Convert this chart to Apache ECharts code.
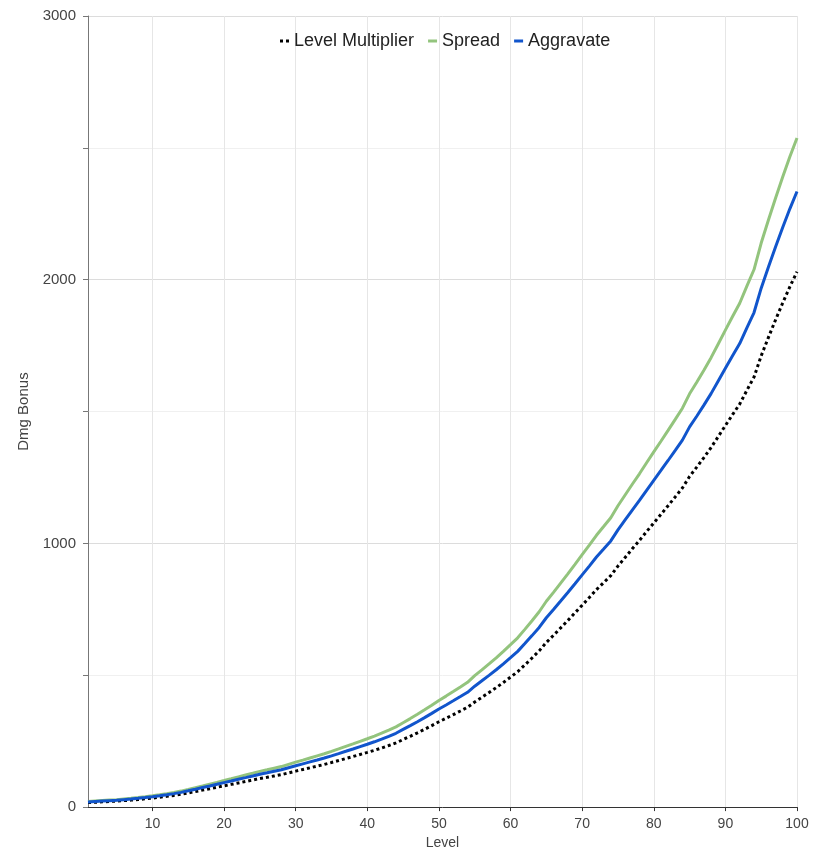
<!DOCTYPE html>
<html>
<head>
<meta charset="utf-8">
<script src="https://cdn.jsdelivr.net/npm/echarts@6/dist/echarts.min.js"></script>
<style>html,body{margin:0;padding:0;background:#fff}#c{width:821px;height:855px}</style>
</head>
<body>
<div id="c"></div>
<script>
const levels = [1,2,3,4,5,6,7,8,9,10,11,12,13,14,15,16,17,18,19,20,21,22,23,24,25,26,27,28,29,30,31,32,33,34,35,36,37,38,39,40,41,42,43,44,45,46,47,48,49,50,51,52,53,54,55,56,57,58,59,60,61,62,63,64,65,66,67,68,69,70,71,72,73,74,75,76,77,78,79,80,81,82,83,84,85,86,87,88,89,90,91,92,93,94,95,96,97,98,99,100];
const levelMultiplier = [17.2,18.5,19.9,21.3,22.6,24.6,26.6,28.9,31.4,34.1,37.2,40.7,44.4,48.6,53.7,59.1,64.4,69.7,75.1,80.6,86.1,91.7,97.2,102.8,108.4,113.2,118.1,123.0,129.7,136.3,142.7,149.0,155.4,161.8,169.1,176.5,184.1,191.7,199.6,207.4,215.4,224.2,233.5,243.4,256.1,268.5,281.5,295.0,309.1,323.6,336.8,350.5,364.5,378.6,398.6,416.4,434.4,453.0,472.6,492.9,513.6,539.1,565.5,592.5,624.4,651.5,679.5,707.8,736.7,765.6,794.8,824.7,851.2,877.7,914.2,946.7,979.4,1011.2,1044.8,1077.4,1110.0,1143.0,1176.4,1210.2,1253.8,1289.0,1325.5,1363.5,1405.1,1446.9,1488.2,1528.4,1580.4,1630.8,1711.2,1780.5,1847.3,1911.5,1972.9,2030.1];
const spread = [21.5,23.2,24.9,26.6,28.3,30.8,33.3,36.1,39.2,42.7,46.5,50.8,55.6,60.7,67.2,73.9,80.5,87.2,93.9,100.7,107.6,114.6,121.6,128.5,135.5,141.5,147.6,153.7,162.2,170.4,178.3,186.3,194.3,202.3,211.4,220.6,230.1,239.6,249.4,259.2,269.2,280.2,291.9,304.2,320.1,335.7,351.9,368.8,386.3,404.5,420.9,438.2,455.6,473.3,498.3,520.5,543.0,566.2,590.8,616.1,642.0,673.9,706.9,740.7,780.6,814.3,849.4,884.7,920.8,957.1,993.5,1030.8,1063.9,1097.2,1142.8,1183.4,1224.3,1264.0,1306.0,1346.8,1387.5,1428.7,1470.5,1512.7,1567.3,1611.2,1656.9,1704.3,1756.4,1808.6,1860.3,1910.6,1975.5,2038.6,2139.0,2225.6,2309.2,2389.3,2466.1,2537.6];
const aggravate = [19.7,21.3,22.9,24.5,26.0,28.3,30.6,33.2,36.1,39.3,42.8,46.8,51.1,55.8,61.8,67.9,74.1,80.2,86.4,92.7,99.0,105.5,111.8,118.2,124.7,130.2,135.8,141.4,149.2,156.7,164.1,171.4,178.7,186.1,194.5,203.0,211.7,220.5,229.5,238.5,247.7,257.8,268.5,279.9,294.5,308.8,323.8,339.3,355.4,372.1,387.3,403.1,419.2,435.4,458.4,478.9,499.5,520.9,543.5,566.8,590.6,620.0,650.3,681.4,718.1,749.2,781.4,814.0,847.2,880.5,914.0,948.4,978.8,1009.4,1051.4,1088.8,1126.3,1162.9,1201.5,1239.1,1276.5,1314.4,1352.8,1391.7,1441.9,1482.3,1524.3,1568.0,1615.9,1663.9,1711.4,1757.7,1817.4,1875.5,1967.9,2047.5,2124.4,2198.2,2268.8,2334.6];
const xTicks = [10,20,30,40,50,60,70,80,90,100];
const seriesNames = ['Level Multiplier','Spread','Aggravate'];

const font = "'Liberation Sans', Arial, sans-serif";
const pair = (ys) => levels.map((x, i) => [x, ys[i]]);

const chart = echarts.init(document.getElementById('c'), null, {renderer: 'canvas'});
chart.setOption({
  animation: false,
  backgroundColor: '#fff',
  textStyle: {fontFamily: font},
  grid: {left: 88, right: 24, top: 16, bottom: 46, containLabel: false},
  legend: {
    top: 27,
    left: 275,
    itemGap: 14,
    itemWidth: 9,
    itemHeight: 3,
    textStyle: {fontFamily: font, fontSize: 18, color: '#222'},
    data: [
      {name: seriesNames[0], icon: 'path://M0,0h3v3h-3z M6,0h3v3h-3z', itemStyle: {color: '#000'}},
      {name: seriesNames[1], icon: 'rect', itemStyle: {color: '#93c47d'}},
      {name: seriesNames[2], icon: 'rect', itemStyle: {color: '#1155cc'}}
    ]
  },
  xAxis: {
    type: 'value',
    min: 1,
    max: 100,
    name: 'Level',
    nameLocation: 'middle',
    nameGap: 23,
    nameTextStyle: {fontFamily: font, fontSize: 14, color: '#444'},
    axisLine: {show: true, onZero: false, lineStyle: {color: '#333', width: 1}},
    axisTick: {show: true, length: 4, customValues: xTicks, lineStyle: {color: '#333'}},
    axisLabel: {customValues: xTicks, fontFamily: font, fontSize: 14, color: '#444', margin: 10},
    splitLine: {show: true, lineStyle: {color: '#e6e6e6', width: 1}}
  },
  yAxis: {
    type: 'value',
    min: 0,
    max: 3000,
    interval: 500,
    name: 'Dmg Bonus',
    nameLocation: 'middle',
    nameGap: 50,
    nameTextStyle: {fontFamily: font, fontSize: 15, color: '#444'},
    axisLine: {show: true, lineStyle: {color: '#777', width: 1}},
    axisTick: {show: true, length: 5, lineStyle: {color: '#777'}},
    axisLabel: {
      fontFamily: font, fontSize: 15, color: '#444', margin: 12,
      formatter: v => (v % 1000 === 0 ? String(v) : '')
    },
    splitLine: {show: true, lineStyle: {color: ['#dcdcdc', '#f0f0f0'], width: 1}}
  },
  series: [
    {
      name: seriesNames[0], type: 'line', data: pair(levelMultiplier), showSymbol: false, symbol: 'none',
      lineStyle: {color: '#000', width: 3, type: [3, 3]}, itemStyle: {color: '#000'}, z: 3
    },
    {
      name: seriesNames[1], type: 'line', data: pair(spread), showSymbol: false, symbol: 'none',
      lineStyle: {color: '#93c47d', width: 3}, itemStyle: {color: '#93c47d'}, z: 2
    },
    {
      name: seriesNames[2], type: 'line', data: pair(aggravate), showSymbol: false, symbol: 'none',
      lineStyle: {color: '#1155cc', width: 3}, itemStyle: {color: '#1155cc'}, z: 4
    }
  ]
});
</script>
</body>
</html>
